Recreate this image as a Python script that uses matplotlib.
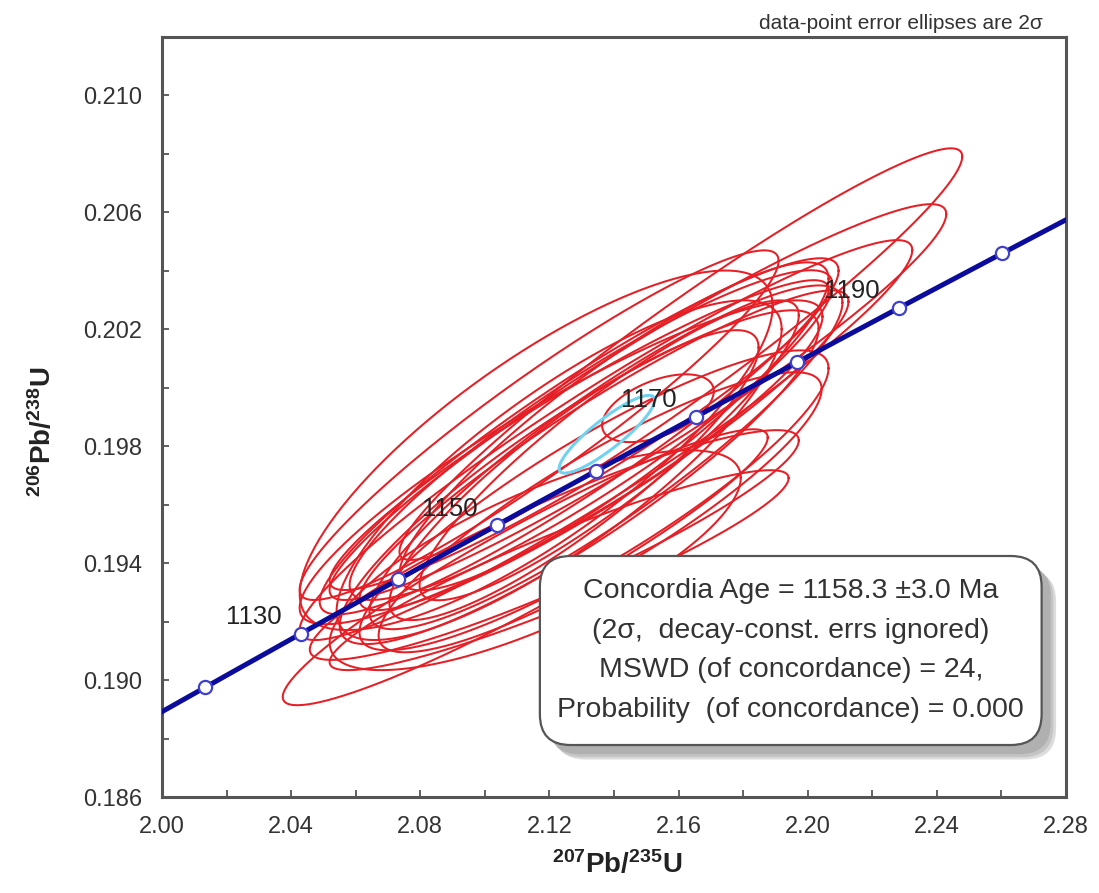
import numpy as np
import matplotlib
matplotlib.use("Agg")
import matplotlib.pyplot as plt
from matplotlib.patches import FancyBboxPatch

plt.rcParams['font.family'] = ['Liberation Sans', 'DejaVu Sans']
plt.rcParams['mathtext.fontset'] = 'custom'
plt.rcParams['mathtext.rm'] = 'Liberation Sans'
plt.rcParams['mathtext.bf'] = 'Liberation Sans:bold'

# analyses: 207Pb/235U, 2s err, 206Pb/238U, 2s err, error correlation
x75 = [2.1607, 2.1474, 2.1375, 2.1125, 2.1292, 2.1329, 2.1375, 2.1236,
       2.1400, 2.1292, 2.1159, 2.1156, 2.1536, 2.1338, 2.1357, 2.1215,
       2.1230, 2.1168, 2.1276, 2.1385, 2.1369, 2.1230, 2.1292]
err75 = [0.08715, 0.09550, 0.09488, 0.07510, 0.08035, 0.07479, 0.07324, 0.08097,
         0.06645, 0.07417, 0.07324, 0.06366, 0.01730, 0.07263, 0.06861, 0.07572,
         0.07108, 0.07417, 0.05717, 0.05872, 0.07572, 0.06892, 0.07726]
y68 = [0.20115, 0.19951, 0.19821, 0.19386, 0.19834, 0.19838, 0.19762, 0.19745,
       0.19868, 0.19694, 0.19786, 0.19410, 0.19930, 0.19615, 0.19574, 0.19462,
       0.19376, 0.19872, 0.19701, 0.19786, 0.19786, 0.19718, 0.19838]
err68 = [0.00704, 0.00677, 0.00684, 0.00472, 0.00609, 0.00564, 0.00588, 0.00554,
         0.00561, 0.00571, 0.00615, 0.00376, 0.00116, 0.00513, 0.00479, 0.00393,
         0.00342, 0.00598, 0.00496, 0.00513, 0.00547, 0.00581, 0.00530]
rho = [0.96, 0.95, 0.95, 0.94, 0.93, 0.91, 0.90, 0.90,
       0.90, 0.89, 0.80, 0.75, 0.50, 0.88, 0.88, 0.91,
       0.92, 0.94, 0.88, 0.90, 0.93, 0.83, 0.94]

# concordia age ellipse (cyan)
conc_x, conc_ex, conc_y, conc_ey, conc_rho = 2.1378, 0.0148, 0.19841, 0.00133, 0.88

marker_ages = [1120, 1130, 1140, 1150, 1160, 1170, 1180, 1190, 1200]
label_ages = [1130, 1150, 1170, 1190]

lam238 = 1.55125e-10
lam235 = 9.8485e-10

xticks = [2.00, 2.04, 2.08, 2.12, 2.16, 2.20, 2.24, 2.28]
yticks = [0.186, 0.190, 0.194, 0.198, 0.202, 0.206, 0.210]

box_text = ("Concordia Age = 1158.3 \u00b13.0 Ma\n"
            "(2\u03c3,  decay-const. errs ignored)\n"
            "MSWD (of concordance) = 24,\n"
            "Probability  (of concordance) = 0.000")


def ellipse_xy(x, sx, y, sy, r, n=240):
    t = np.linspace(0, 2 * np.pi, n)
    return x + sx * np.cos(t), y + sy * (r * np.cos(t) + np.sqrt(1 - r * r) * np.sin(t))


def concordia(age_ma):
    t = np.asarray(age_ma) * 1e6
    return np.exp(lam235 * t) - 1, np.exp(lam238 * t) - 1


fig = plt.figure(figsize=(10.99, 8.93), dpi=100)
ax = fig.add_axes([0.1474, 0.1075, 0.8226, 0.8511])

for i in range(len(x75)):
    ex, ey = ellipse_xy(x75[i], err75[i], y68[i], err68[i], rho[i])
    ax.plot(ex, ey, color='#e61e25', lw=1.45, zorder=2)

ex, ey = ellipse_xy(conc_x, conc_ex, conc_y, conc_ey, conc_rho)
ax.plot(ex, ey, color='#6fd3f0', lw=2.2, zorder=3)

# concordia curve
cx, cy = concordia(np.linspace(1100, 1220, 300))
ax.plot(cx, cy, color='#0c0c9c', lw=3.6, zorder=4, solid_capstyle='butt')
mx, my = concordia(marker_ages)
ax.plot(mx, my, 'o', ms=9.5, mfc='white', mec='#4040d0', mew=1.6, zorder=5)
lx, ly = concordia(label_ages)
for a, x, y in zip(label_ages, lx, ly):
    ax.annotate(str(a), (x, y), xytext=(-14, 12), textcoords='offset points',
                ha='right', va='center', fontsize=18.5, color='#222222', zorder=6)

ax.set_xlim(2.00, 2.28)
ax.set_ylim(0.186, 0.212)
ax.set_xticks(xticks)
ax.set_xticklabels([f"{v:.2f}" for v in xticks])
ax.set_xticks([v + 0.02 for v in xticks[:-1]], minor=True)
ax.set_yticks(yticks)
ax.set_yticklabels([f"{v:.3f}" for v in yticks])
ax.set_yticks([v + 0.002 for v in yticks], minor=True)
ax.tick_params(which='both', direction='in', length=5, width=1.3, color='#555555',
               labelsize=17, labelcolor='#333333', pad=14)
for s in ax.spines.values():
    s.set_color('#555555')
    s.set_linewidth(2.2)

ax.set_xlabel(r'$\mathbf{^{207}Pb/^{235}U}$', fontsize=20, color='#222222')
ax.xaxis.set_label_coords(0.503, -0.070)
ax.set_ylabel(r'$\mathbf{^{206}Pb/^{238}U}$', fontsize=20, color='#222222')
ax.yaxis.set_label_coords(-0.116, 0.48)

# results box with drop shadow
bx, by, bw, bh = 0.418, 0.0684, 0.555, 0.2487
asp = 904 / 760
for k, (dx, dy, c) in enumerate([(0.016, -0.019, '#dcdcdc'), (0.013, -0.016, '#c4c4c4'),
                                  (0.010, -0.012, '#b0b0b0')]):
    ax.add_patch(FancyBboxPatch((bx + dx, by + dy), bw, bh, transform=ax.transAxes,
                                boxstyle='round,pad=0,rounding_size=0.034',
                                mutation_aspect=asp, fc=c, ec='none', zorder=8 + 0.1 * k))
ax.add_patch(FancyBboxPatch((bx, by), bw, bh, transform=ax.transAxes,
                            boxstyle='round,pad=0,rounding_size=0.034', mutation_aspect=asp,
                            fc='white', ec='#555555', lw=1.6, zorder=9))
ax.text(bx + bw / 2, by + bh / 2, box_text, transform=ax.transAxes, ha='center', va='center',
        fontsize=20.5, color='#333333', linespacing=1.68, zorder=10)

fig.text(0.949, 0.974, 'data-point error ellipses are 2\u03c3', ha='right', va='center',
         fontsize=15, color='#333333')

fig.savefig('out.png', dpi=100)
